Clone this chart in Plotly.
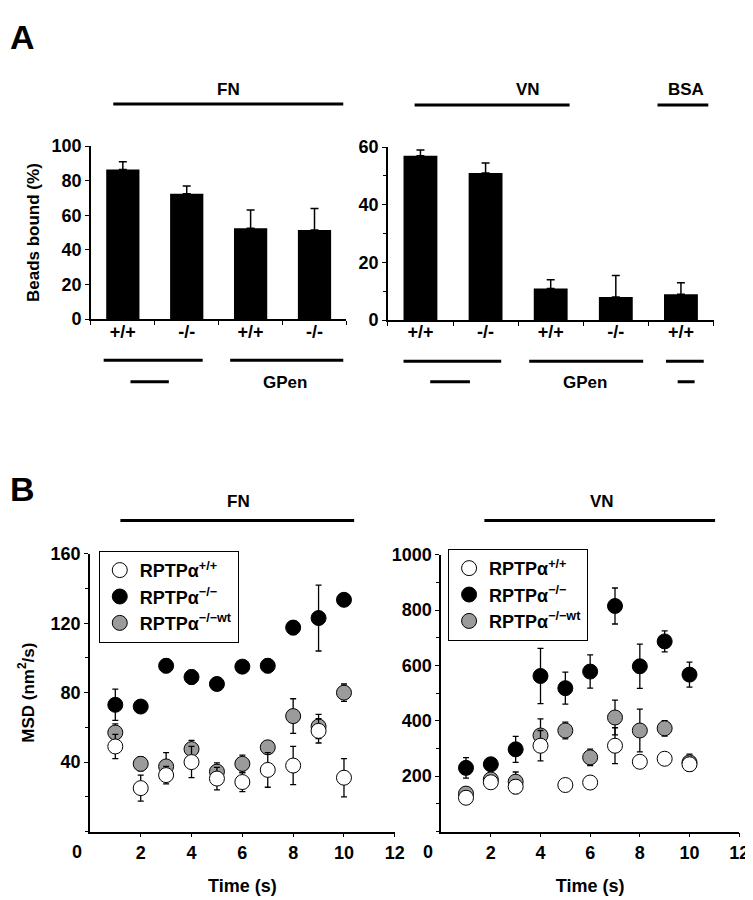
import plotly.graph_objects as go

# Panel A: beads bound (%)
fn_genotypes = ["+/+", "-/-", "+/+", "-/-"]
fn_bound = [86.5, 72.5, 52.5, 51.5]
fn_bound_err = [4.5, 4.5, 10.5, 12.5]

vn_genotypes = ["+/+", "-/-", "+/+", "-/-", "+/+"]
vn_bound = [57, 51, 11, 8, 9]
vn_bound_err = [2, 3.5, 3, 7.5, 4]

# Panel B: MSD over time
time_s = [1, 2, 3, 4, 5, 6, 7, 8, 9, 10]

fn_wt = [49, 25, 32.5, 40, 30.5, 28.5, 35.5, 38, 58, 31]
fn_wt_err = [7, 7.5, 5, 9, 6.5, 5.5, 10, 11, 7, 11]
fn_ko = [73, 72, 95.5, 89, 85, 95, 95.5, 117.5, 123, 133.5]
fn_ko_err = [9, 1, 4, 4, 3, 1, 4, 4, 19, 1]
fn_rescue = [57, 39, 37.5, 47.5, 34.5, 39, 48.5, 66.5, 60.5, 80]
fn_rescue_err = [5, 4, 8, 5, 5, 5, 1, 10, 7, 5]

vn_wt = [122, 178, 162, 310, 168, 177, 310, 252, 263, 243]
vn_wt_err = [5, 20, 25, 55, 3, 3, 65, 20, 3, 25]
vn_ko = [230, 243, 297, 562, 518, 578, 815, 597, 687, 567]
vn_ko_err = [37, 15, 47, 100, 58, 60, 65, 80, 38, 45]
vn_rescue = [137, 188, 180, 347, 365, 268, 412, 365, 373, 250]
vn_rescue_err = [5, 15, 35, 60, 30, 30, 63, 77, 28, 30]

W, H = 753, 900
FONT = "Liberation Sans, Arial, sans-serif"
GREY = "rgb(155,155,155)"


def px(x):
    return x / W


def py(y):
    return 1 - y / H


fig = go.Figure()

# ---- Panel A bars ----
fig.add_trace(go.Bar(
    x=list(range(len(fn_bound))), y=fn_bound, width=0.52,
    marker=dict(color="black", line=dict(width=0)),
    error_y=dict(type="data", array=fn_bound_err, arrayminus=[0] * len(fn_bound),
                 color="black", thickness=1.5, width=4),
    xaxis="x", yaxis="y", showlegend=False))
fig.add_trace(go.Bar(
    x=list(range(len(vn_bound))), y=vn_bound, width=0.52,
    marker=dict(color="black", line=dict(width=0)),
    error_y=dict(type="data", array=vn_bound_err, arrayminus=[0] * len(vn_bound),
                 color="black", thickness=1.5, width=4),
    xaxis="x2", yaxis="y2", showlegend=False))

# ---- Panel B scatter ----
series = [
    ("RPTPα<sup>−/−</sup>", "black", fn_ko, fn_ko_err, vn_ko, vn_ko_err, 2),
    ("RPTPα<sup>−/−wt</sup>", GREY, fn_rescue, fn_rescue_err, vn_rescue, vn_rescue_err, 3),
    ("RPTPα<sup>+/+</sup>", "white", fn_wt, fn_wt_err, vn_wt, vn_wt_err, 1),
]
for name, color, fy, fe, vy, ve, rank in series:
    for xa, ya, yy, ee, leg in [("x3", "y3", fy, fe, "legend"), ("x4", "y4", vy, ve, "legend2")]:
        fig.add_trace(go.Scatter(
            x=time_s, y=yy, mode="markers", name=name,
            marker=dict(size=15, color=color, line=dict(color="black", width=1)),
            error_y=dict(type="data", array=ee, color="black", thickness=1.3, width=3),
            xaxis=xa, yaxis=ya, legend=leg, legendrank=rank))

tickfont = dict(family=FONT, size=18, color="black", weight="bold")
axis_common = dict(showline=True, linecolor="black", linewidth=1.5, showgrid=False,
                   zeroline=False, tickfont=tickfont, tickcolor="black")
legfont = dict(family=FONT, size=18, weight="bold", color="black")

fig.update_layout(
    width=W, height=H, margin=dict(l=0, r=0, t=0, b=0),
    paper_bgcolor="white", plot_bgcolor="white",
    font=dict(family=FONT, color="black"),
    xaxis=dict(domain=[px(84), px(343)], range=[-0.5, 3.5],
               tickvals=list(range(len(fn_genotypes))), ticktext=fn_genotypes,
               ticks="", ticklabelstandoff=-5,
               minor=dict(tick0=0.5, dtick=1, ticks="outside", ticklen=4, tickcolor="black"),
               anchor="y", **axis_common),
    yaxis=dict(domain=[py(308), py(131)], range=[0, 100], dtick=20,
               ticks="outside", ticklen=4, anchor="x",
               title=dict(text="Beads bound (%)", font=dict(family=FONT, size=17, weight="bold"),
                          standoff=8),
               **axis_common),
    xaxis2=dict(domain=[px(385), px(715)], range=[-0.5, 4.5],
                tickvals=list(range(len(vn_genotypes))), ticktext=vn_genotypes,
                ticks="", ticklabelstandoff=-5,
                minor=dict(tick0=0.5, dtick=1, ticks="outside", ticklen=4, tickcolor="black"),
                anchor="y2", **axis_common),
    yaxis2=dict(domain=[py(309), py(132)], range=[0, 60], dtick=20,
                ticks="outside", ticklen=4, anchor="x2",
                minor=dict(dtick=10, ticks="outside", ticklen=3, tickcolor="black"),
                **axis_common),
    xaxis3=dict(domain=[px(83), px(392)], range=[0, 12], tickvals=[2, 4, 6, 8, 10, 12],
                ticks="outside", ticklen=4, anchor="y3",
                title=dict(text="Time (s)", font=dict(family=FONT, size=18, weight="bold"),
                           standoff=18),
                **axis_common),
    yaxis3=dict(domain=[py(832), py(548)], range=[0, 160], tickvals=[40, 80, 120, 160],
                ticks="outside", ticklen=4, anchor="x3",
                minor=dict(tick0=0, dtick=20, ticks="outside", ticklen=3, tickcolor="black"),
                title=dict(text="MSD (nm<sup>2</sup>/s)", font=dict(family=FONT, size=17, weight="bold"),
                           standoff=12),
                **axis_common),
    xaxis4=dict(domain=[px(439), px(741)], range=[0, 12], tickvals=[2, 4, 6, 8, 10, 12],
                ticks="outside", ticklen=4, anchor="y4",
                title=dict(text="Time (s)", font=dict(family=FONT, size=18, weight="bold"),
                           standoff=18),
                **axis_common),
    yaxis4=dict(domain=[py(832), py(549)], range=[0, 1000], tickvals=[200, 400, 600, 800, 1000],
                ticks="outside", ticklen=4, anchor="x4",
                minor=dict(tick0=0, dtick=100, ticks="outside", ticklen=3, tickcolor="black"),
                **axis_common),
    legend=dict(x=px(92), y=py(545), xanchor="left", yanchor="top",
                bgcolor="white", bordercolor="black", borderwidth=1,
                font=legfont, itemwidth=30, tracegroupgap=0),
    legend2=dict(x=px(446), y=py(543), xanchor="left", yanchor="top",
                 bgcolor="white", bordercolor="black", borderwidth=1,
                 font=legfont, itemwidth=30, tracegroupgap=0),
)

shapes = []
annotations = []


def hline(xref, x0, x1, y, w=3):
    shapes.append(dict(type="line", xref=xref, yref="paper", x0=x0, x1=x1, y0=py(y), y1=py(y),
                       line=dict(color="black", width=w)))


def text(xref, x, y, s, size=17):
    annotations.append(dict(xref=xref, yref="paper", x=x, y=py(y), text=s, showarrow=False,
                            xanchor="center", yanchor="middle",
                            font=dict(family=FONT, size=size, color="black", weight="bold")))


# Panel A headers
text("x", 1.65, 73, "FN")
hline("x", -0.15, 3.45, 88)
text("x2", 1.65, 73, "VN")
hline("x2", -0.09, 2.29, 89)
text("x2", 4.08, 73, "BSA")
hline("x2", 3.64, 4.42, 89)

# Panel A treatment brackets
hline("x", -0.30, 1.25, 350)
hline("x", 1.68, 3.45, 350)
hline("x", 0.12, 0.72, 372)
text("x", 2.54, 373, "GPen")
hline("x2", -0.26, 1.24, 351)
hline("x2", 1.67, 3.42, 351)
hline("x2", 3.77, 4.35, 351)
hline("x2", 0.15, 0.76, 372)
text("x2", 2.53, 373, "GPen")
hline("x2", 3.95, 4.21, 372)

# Panel B headers
text("x3", 5.83, 494, "FN")
hline("x3", 1.2, 10.4, 514)
text("x4", 6.47, 494, "VN")
hline("x4", 1.74, 11.03, 514)

# x = 0 tick labels, set a little left of the y axis as in the original
for xr, yr in [("x3", "y3"), ("x4", "y4")]:
    annotations.append(dict(xref=xr, yref=yr + " domain", x=0, y=0, text="0", showarrow=False,
                            xanchor="center", yanchor="top", xshift=-13, yshift=-8,
                            font=tickfont))

# Panel letters
annotations.append(dict(xref="paper", yref="paper", x=0, y=1, xanchor="left", yanchor="top",
                        text="A", showarrow=False, yshift=2,
                        font=dict(family=FONT, size=34, color="black", weight="bold")))
annotations.append(dict(xref="paper", yref="paper", x=0, y=py(460), xanchor="left", yanchor="top",
                        text="B", showarrow=False,
                        font=dict(family=FONT, size=34, color="black", weight="bold")))

fig.update_layout(shapes=shapes, annotations=annotations)
fig.write_html("out.html")
